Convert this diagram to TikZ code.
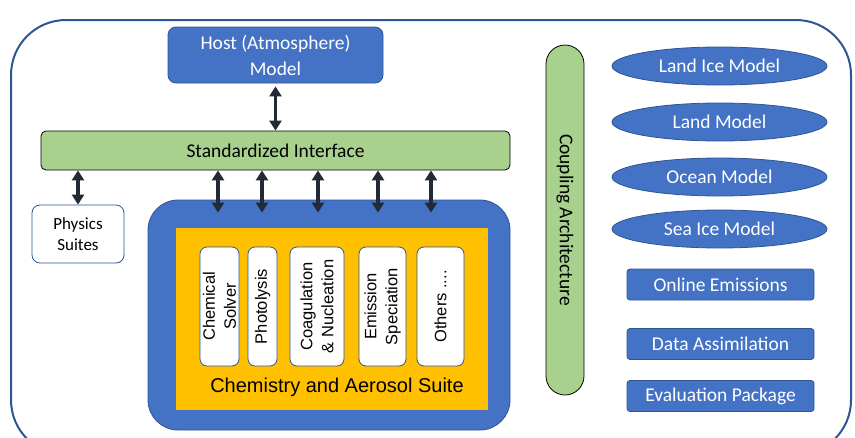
\documentclass[tikz,border=0pt]{standalone}
\usepackage{fontspec}
\setmainfont{Carlito}
\newfontfamily\arialf{Liberation Sans}
\usetikzlibrary{arrows.meta}
\definecolor{mblue}{HTML}{4472C4}
\definecolor{dblue}{HTML}{2F5597}
\definecolor{mgreen}{HTML}{A9D18E}
\definecolor{morange}{HTML}{FFC000}
\definecolor{arrowc}{HTML}{222A35}
\tikzset{
  bluebox/.style={draw=dblue, line width=0.8pt, fill=mblue, text=white, rounded corners=8pt, inner sep=0pt, align=center, font=\fontsize{19.5}{26}\selectfont},
  greenbox/.style={draw=black, line width=0.8pt, fill=mgreen, text=black, inner sep=0pt, align=center, font=\fontsize{19.5}{26}\selectfont},
  ellbox/.style={draw=dblue, line width=0.8pt, fill=mblue, text=white, ellipse, inner sep=0pt, minimum width=215pt, minimum height=38pt, font=\fontsize{19.5}{24}\selectfont},
  rectbox/.style={draw=dblue, line width=0.8pt, fill=mblue, text=white, rounded corners=3pt, inner sep=0pt, minimum width=187pt, minimum height=31pt, font=\fontsize{19.5}{24}\selectfont},
  innerbox/.style={draw=dblue, line width=0.8pt, fill=white, text=black, rounded corners=7pt, inner sep=0pt, rotate=90, align=center, minimum width=119pt, font=\arialf\fontsize{16.5}{21}\selectfont},
  biarrow/.style={draw=arrowc, line width=3.6pt, {Triangle[length=10pt,width=12pt]}-{Triangle[length=10pt,width=12pt]}}
}
\usetikzlibrary{shapes.geometric}
\begin{document}
\begin{tikzpicture}[x=1pt,y=-1pt]
\useasboundingbox (0,0) rectangle (855,437);
\fill[white] (0,0) rectangle (855,437);
\draw[dblue, line width=2pt, rounded corners=55pt] (11,20) rectangle (851,455);

\node[bluebox, minimum width=215pt, minimum height=56pt] (host) at (275.5,55) {Host (Atmosphere)\\Model};
\node[greenbox, rounded corners=5pt, minimum width=469pt, minimum height=39pt] (iface) at (275.5,150.5) {Standardized Interface};
\node[draw=dblue, line width=0.8pt, fill=white, rounded corners=8pt, inner sep=0pt, align=center, minimum width=92pt, minimum height=58pt, font=\fontsize{17}{21}\selectfont] (phys) at (78,234) {Physics\\Suites};

\node[fill=mblue, draw=dblue, line width=0.8pt, rounded corners=30pt, minimum width=362pt, minimum height=230pt, inner sep=0pt] (chem) at (329,315) {};
\node[fill=morange, minimum width=312pt, minimum height=182pt, inner sep=0pt] (orange) at (332,319) {};

\node[innerbox, minimum height=39pt] (solver) at (219.5,306.5) {Chemical\\Solver};
\node[innerbox, minimum height=29pt] (photo) at (262.5,306.5) {Photolysis};
\node[innerbox, minimum height=54pt] (coag) at (317,306.5) {Coagulation\\\& Nucleation};
\node[innerbox, minimum height=47pt] (emis) at (382.5,306.5) {Emission\\Speciation};
\node[innerbox, minimum height=47pt] (others) at (440.5,306.5) {Others ....};
\node[font=\arialf\fontsize{20}{24}\selectfont, text=black] (suite) at (337,387) {Chemistry and Aerosol Suite};

\node[greenbox, rounded corners=19pt, minimum width=38pt, minimum height=350pt] (coup) at (565,220) {};
\node[rotate=-90, font=\fontsize{19.5}{24}\selectfont] (couplabel) at (coup.center) {Coupling Architecture};

\node[ellbox] (landice) at (719.5,66) {Land Ice Model};
\node[ellbox] (land) at (719.5,122) {Land Model};
\node[ellbox] (ocean) at (719.5,177) {Ocean Model};
\node[ellbox] (seaice) at (719.5,229) {Sea Ice Model};
\node[rectbox] (online) at (720.5,284.5) {Online Emissions};
\node[rectbox] (da) at (720.5,344) {Data Assimilation};
\node[rectbox] (eval) at (720.5,396) {Evaluation Package};

\coordinate (a1) at (218,0);
\coordinate (a2) at (262,0);
\coordinate (a3) at (318,0);
\coordinate (a4) at (378,0);
\coordinate (a5) at (431,0);

\draw[biarrow] ([yshift=-3pt]host.south) -- (iface.north);
\draw[biarrow] (iface.south -| phys.north) -- (phys.north);
\foreach \a in {a1,a2,a3,a4,a5}{
  \draw[biarrow] (iface.south -| \a) -- ([yshift=-13pt]chem.north -| \a);
}
\end{tikzpicture}
\end{document}
